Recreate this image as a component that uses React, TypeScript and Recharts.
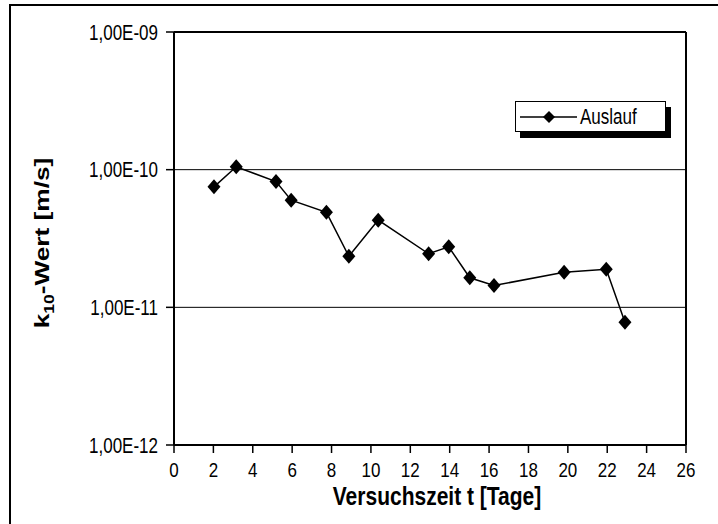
import React from "react";
import {
  LineChart,
  Line,
  XAxis,
  YAxis,
  CartesianGrid,
  ReferenceLine,
} from "recharts";

const days = [2.03, 3.16, 5.18, 5.95, 7.74, 8.88, 10.37, 12.93, 13.95, 15.02, 16.25, 19.81, 21.95, 22.9];
const kValues = [7.5e-11, 1.05e-10, 8.2e-11, 6.0e-11, 4.9e-11, 2.35e-11, 4.3e-11, 2.45e-11, 2.75e-11, 1.64e-11, 1.44e-11, 1.8e-11, 1.89e-11, 7.8e-12];
const xTicks = [0, 2, 4, 6, 8, 10, 12, 14, 16, 18, 20, 22, 24, 26];
const yTicks = [1e-12, 1e-11, 1e-10, 1e-9];
const seriesName = "Auslauf";
const xTitle = "Versuchszeit t [Tage]";

const data = days.map((t, i) => ({ t, k: kValues[i] }));

const FONT = "'Liberation Sans', Arial, sans-serif";
const SY = 1.25;

const fmtY = (v: number) => {
  const e = Math.round(-Math.log10(v));
  return "1,00E-" + (e < 10 ? "0" + e : String(e));
};

const Diamond = (props: any) => {
  const { cx, cy } = props;
  if (cx == null || cy == null) return null;
  return (
    <polygon
      points={`${cx},${cy - 7.5} ${cx + 6.5},${cy} ${cx},${cy + 7.5} ${cx - 6.5},${cy}`}
      fill="#000"
      stroke="none"
    />
  );
};

const XTick = (props: any) => {
  const { x, y, payload } = props;
  return (
    <text
      transform={`translate(${x},${y + 24}) scale(1,1.2)`}
      textAnchor="middle"
      fontFamily={FONT}
      fontSize={17}
      fill="#000"
    >
      {payload.value}
    </text>
  );
};

const YTick = (props: any) => {
  const { x, y, payload } = props;
  return (
    <text
      transform={`translate(${x},${y + 7.5}) scale(1,${SY})`}
      textAnchor="end"
      fontFamily={FONT}
      fontSize={17}
      fill="#000"
    >
      {fmtY(payload.value)}
    </text>
  );
};

const XTitle = (props: any) => {
  const vb = props.viewBox || {};
  return (
    <text
      transform={`translate(437,${vb.y + 60}) scale(1,${SY})`}
      textAnchor="middle"
      fontFamily={FONT}
      fontSize={21}
      fontWeight="bold"
      fill="#000"
    >
      {xTitle}
    </text>
  );
};

const YTitle = () => (
  <text
    transform={`translate(49,243) rotate(-90) scale(${SY},1)`}
    textAnchor="middle"
    fontFamily={FONT}
    fontSize={21}
    fontWeight="bold"
    fill="#000"
  >
    k<tspan fontSize={14} dy={5}>10</tspan>
    <tspan dy={-5}>-Wert [m/s]</tspan>
  </text>
);

const LegendBox = () => (
  <div style={{ position: "absolute", left: 515, top: 101, width: 156, height: 37 }}>
    <div
      style={{
        position: "absolute",
        left: 5,
        top: 6,
        width: 151,
        height: 31,
        background: "#000",
      }}
    />
    <div
      style={{
        position: "absolute",
        left: 0,
        top: 0,
        width: 149,
        height: 29,
        border: "1px solid #000",
        background: "#fff",
      }}
    >
      <svg width={149} height={29} style={{ position: "absolute", left: 0, top: 0 }}>
        <line x1={4} y1={15} x2={61} y2={15} stroke="#000" strokeWidth={1.5} />
        <polygon points="33,9 39,15 33,21 27,15" fill="#000" />
        <text
          transform={`translate(64,22) scale(1,${SY})`}
          fontFamily={FONT}
          fontSize={17}
          fill="#000"
        >
          {seriesName}
        </text>
      </svg>
    </div>
  </div>
);

export default function App() {
  return (
    <div style={{ position: "absolute", left: 0, top: 0, width: 718, height: 524, background: "#fff", overflow: "hidden" }}>
      <div
        style={{
          position: "absolute",
          left: 9,
          top: 4,
          width: 720,
          height: 530,
          borderLeft: "2px solid #000",
          borderTop: "2px solid #000",
        }}
      />
      <div style={{ position: "absolute", left: 0, top: 0 }}>
        <LineChart
          width={718}
          height={524}
          data={data}
          margin={{ top: 32, right: 32, left: 0, bottom: 29 }}
        >
          <CartesianGrid vertical={false} stroke="#000" strokeWidth={1} />
          <XAxis
            dataKey="t"
            type="number"
            domain={[0, 26]}
            ticks={xTicks}
            interval={0}
            height={50}
            axisLine={{ stroke: "#000", strokeWidth: 2 }}
            tickLine={{ stroke: "#000", strokeWidth: 1.5 }}
            tickSize={8}
            tickMargin={0}
            tick={<XTick />}
            label={<XTitle />}
          />
          <YAxis
            dataKey="k"
            scale="log"
            domain={[1e-12, 1e-9]}
            ticks={yTicks}
            interval={0}
            allowDataOverflow
            width={174}
            axisLine={{ stroke: "#000", strokeWidth: 2 }}
            tickLine={{ stroke: "#000", strokeWidth: 1.5 }}
            tickSize={8}
            tickMargin={8}
            tick={<YTick />}
            label={<YTitle />}
          />
          <ReferenceLine y={1e-9} stroke="#000" strokeWidth={2} />
          <ReferenceLine x={26} stroke="#000" strokeWidth={2} />
          <Line
            dataKey="k"
            name={seriesName}
            stroke="#000"
            strokeWidth={1.5}
            dot={<Diamond />}
            activeDot={false}
            isAnimationActive={false}
          />
        </LineChart>
      </div>
      <LegendBox />
    </div>
  );
}
